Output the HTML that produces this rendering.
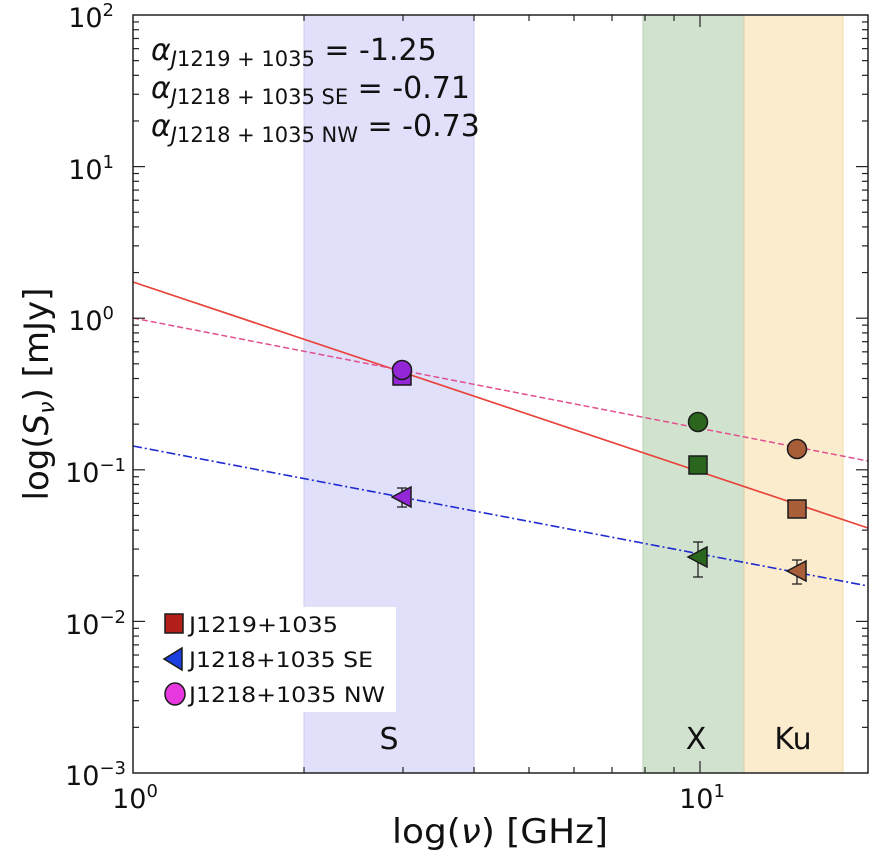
<!DOCTYPE html>
<html><head><meta charset="utf-8"><style>
body{margin:0;background:#fff}
svg text{font-family:"DejaVu Sans","Liberation Sans",sans-serif}
</style></head><body>
<svg width="877" height="862" viewBox="0 0 877 862" xmlns="http://www.w3.org/2000/svg">
<rect width="877" height="862" fill="#fff"/>
<rect x="304" y="15" width="170" height="758" fill="#e1e0fa"/>
<line x1="304" y1="15" x2="304" y2="773" stroke="#cfcdf0"/>
<line x1="474" y1="15" x2="474" y2="773" stroke="#cfcdf0"/>
<rect x="643" y="15" width="101" height="758" fill="#d1e3cf"/>
<rect x="744" y="15" width="99" height="758" fill="#fbecce"/>
<line x1="643" y1="15" x2="643" y2="773" stroke="#b8d0b4"/>
<line x1="744" y1="15" x2="744" y2="773" stroke="#d8cfa0"/>
<line x1="843" y1="15" x2="843" y2="773" stroke="#f0dcaa"/>
<line x1="133" y1="282" x2="868" y2="528" stroke="#e8433a" stroke-width="1.7"/>
<line x1="133" y1="318" x2="868" y2="461" stroke="#e0508f" stroke-width="1.5" stroke-dasharray="6,3"/>
<line x1="133" y1="446" x2="868" y2="586" stroke="#1f2ad0" stroke-width="1.6" stroke-dasharray="9,3,2,3"/>
<g stroke="#222" stroke-width="1.3">
<line x1="402" y1="488" x2="402" y2="507"/><line x1="397" y1="488" x2="407" y2="488"/><line x1="397" y1="507" x2="407" y2="507"/>
<line x1="698" y1="542" x2="698" y2="577"/><line x1="693" y1="542" x2="703" y2="542"/><line x1="693" y1="577" x2="703" y2="577"/>
<line x1="797" y1="560" x2="797" y2="584"/><line x1="792" y1="560" x2="802" y2="560"/><line x1="792" y1="584" x2="802" y2="584"/>
</g>
<g stroke="#1a1a1a" stroke-width="1.5">
<rect x="393" y="367" width="18" height="18" fill="#9326d6"/>
<circle cx="402" cy="370" r="9.5" fill="#9326d6"/>
<polygon points="392,497 411,487 411,507" fill="#9326d6"/>
<circle cx="698" cy="422" r="9.5" fill="#2a661e"/>
<rect x="689" y="456" width="18" height="18" fill="#2a661e"/>
<polygon points="688,557 707,547 707,567" fill="#2a661e"/>
<circle cx="797" cy="449" r="9.5" fill="#a95e3a"/>
<rect x="788" y="500" width="18" height="18" fill="#a95e3a"/>
<polygon points="787,571 806,561 806,581" fill="#a95e3a"/>
</g>
<rect x="160" y="607" width="236" height="105" fill="#fff"/>
<g stroke="#1a1a1a" stroke-width="1.5">
<rect x="165" y="614" width="18" height="19" fill="#b3201a"/>
<polygon points="164,659 182,648 182,670" fill="#1a3ee0"/>
<ellipse cx="175" cy="694" rx="10" ry="11" fill="#e838e0"/>
</g>
<g font-size="21" fill="#111" transform="scale(1,1)">
<text x="189" y="632" textLength="149" lengthAdjust="spacingAndGlyphs">J1219+1035</text>
<text x="189" y="667" textLength="184" lengthAdjust="spacingAndGlyphs">J1218+1035 SE</text>
<text x="189" y="702" textLength="196" lengthAdjust="spacingAndGlyphs">J1218+1035 NW</text>
</g>
<g font-size="30" fill="#111" text-anchor="middle">
<text x="389" y="749">S</text>
<text x="696" y="749">X</text>
<text x="793" y="749">Ku</text>
</g>
<g font-size="30" fill="#111">
<text x="151" y="60"><tspan font-style="italic">α</tspan><tspan font-size="21" dy="6"><tspan font-style="italic">J</tspan>1219 + 1035</tspan><tspan dy="-6"> = -1.25</tspan></text>
<text x="151" y="98"><tspan font-style="italic">α</tspan><tspan font-size="21" dy="6"><tspan font-style="italic">J</tspan>1218 + 1035 SE</tspan><tspan dy="-6"> = -0.71</tspan></text>
<text x="151" y="136"><tspan font-style="italic">α</tspan><tspan font-size="21" dy="6"><tspan font-style="italic">J</tspan>1218 + 1035 NW</tspan><tspan dy="-6"> = -0.73</tspan></text>
</g>
<rect x="133" y="15" width="735" height="758" fill="none" stroke="#222" stroke-width="1.5"/>
<g stroke="#222" stroke-width="1.2">
<line x1="700" y1="773" x2="700" y2="761"/><line x1="700" y1="15" x2="700" y2="27"/>
<line x1="304" y1="773" x2="304" y2="767"/><line x1="304" y1="15" x2="304" y2="21"/>
<line x1="403" y1="773" x2="403" y2="767"/><line x1="403" y1="15" x2="403" y2="21"/>
<line x1="474" y1="773" x2="474" y2="767"/><line x1="474" y1="15" x2="474" y2="21"/>
<line x1="529" y1="773" x2="529" y2="767"/><line x1="529" y1="15" x2="529" y2="21"/>
<line x1="574" y1="773" x2="574" y2="767"/><line x1="574" y1="15" x2="574" y2="21"/>
<line x1="612" y1="773" x2="612" y2="767"/><line x1="612" y1="15" x2="612" y2="21"/>
<line x1="645" y1="773" x2="645" y2="767"/><line x1="645" y1="15" x2="645" y2="21"/>
<line x1="674" y1="773" x2="674" y2="767"/><line x1="674" y1="15" x2="674" y2="21"/>
</g>
<g stroke="#222" stroke-width="1.2" id="yt"></g>
<g font-size="27" fill="#111" text-anchor="end">
<text x="114" y="27">10<tspan font-size="18" dy="-11">2</tspan></text>
<text x="114" y="179">10<tspan font-size="18" dy="-11">1</tspan></text>
<text x="114" y="330">10<tspan font-size="18" dy="-11">0</tspan></text>
<text x="126" y="482">10<tspan font-size="18" dy="-11">−1</tspan></text>
<text x="126" y="634">10<tspan font-size="18" dy="-11">−2</tspan></text>
<text x="126" y="785">10<tspan font-size="18" dy="-11">−3</tspan></text>
</g>
<g font-size="27" fill="#111" text-anchor="middle">
<text x="135" y="808">10<tspan font-size="18" dy="-11">0</tspan></text>
<text x="702" y="808">10<tspan font-size="18" dy="-11">1</tspan></text>
</g>
<text x="500" y="843" font-size="34" text-anchor="middle" fill="#111" textLength="216" lengthAdjust="spacingAndGlyphs">log(<tspan font-style="italic">ν</tspan>) [GHz]</text>
<text transform="translate(48,394) rotate(-90)" font-size="34" text-anchor="middle" fill="#111">log(<tspan font-style="italic">S</tspan><tspan font-size="22" dy="6" font-style="italic">ν</tspan><tspan dy="-6">) [mJy]</tspan></text>
<script>
(function(){var g=document.getElementById('yt'),ns='http://www.w3.org/2000/svg';
function L(x1,y1,x2,y2){var l=document.createElementNS(ns,'line');l.setAttribute('x1',x1);l.setAttribute('y1',y1);l.setAttribute('x2',x2);l.setAttribute('y2',y2);g.appendChild(l);}
var d=151.6;for(var k=0;k<5;k++){var base=773-k*d;for(var m=1;m<10;m++){var y=base-Math.log10(m)*d;var len=m==1?12:6;if(m==1&&k==0)continue;L(133,y,133+len,y);L(868,y,868-len,y);}}})();
</script>
</svg>
</body></html>
